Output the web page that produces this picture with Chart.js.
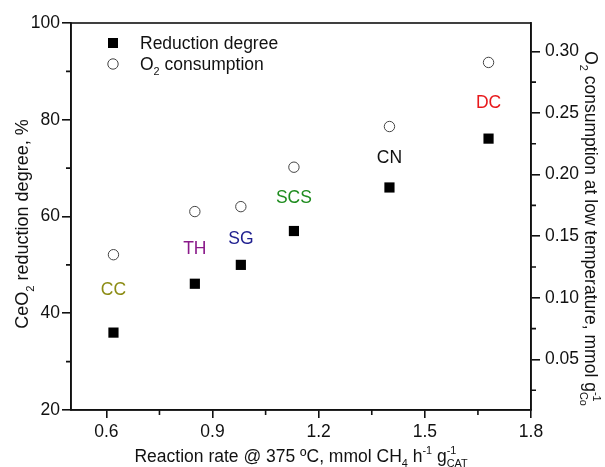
<!DOCTYPE html>
<html>
<head>
<meta charset="utf-8">
<script src="https://cdn.jsdelivr.net/npm/chart.js@4.4.1/dist/chart.umd.min.js"></script>
<style>
html,body{margin:0;padding:0;background:#fff;}
#wrap{width:605px;height:467px;}
</style>
</head>
<body>
<div id="wrap"><canvas id="c" width="605" height="467"></canvas></div>
<script>
// ---- data ----
const xRate = [0.62, 0.85, 0.98, 1.13, 1.40, 1.68];
const reductionDegree = [36.0, 46.1, 50.0, 57.0, 66.0, 76.1];
const o2Consumption = [0.135, 0.170, 0.174, 0.206, 0.239, 0.291];
const sampleNames = ['CC', 'TH', 'SG', 'SCS', 'CN', 'DC'];
const sampleLabelY = [45.0, 53.5, 55.6, 64.1, 72.3, 83.7];
const sampleColors = ['#8c8c14', '#8a1a8a', '#1f1f8f', '#1f8c1f', '#111111', '#e8191c'];
const xTicks = [0.6, 0.9, 1.2, 1.5, 1.8];
const xMinorTicks = [0.75, 1.05, 1.35, 1.65];
const yTicks = [20, 40, 60, 80, 100];
const yMinorTicks = [30, 50, 70, 90];
const y2Ticks = [0.05, 0.10, 0.15, 0.20, 0.25, 0.30];
const y2MinorTicks = [0.025, 0.075, 0.125, 0.175, 0.225, 0.275];
const legendLabels = [[{t:'Reduction degree'}], [{t:'O'},{t:'2',sub:true},{t:' consumption'}]];

const FONT = '"Liberation Sans", Arial, sans-serif';
const FS = 17.5;
const AXIS = '#111';

function segWidth(ctx, s, size){
  if (s.sup !== undefined && s.subB !== undefined) {
    ctx.font = (size*0.62)+'px '+FONT;
    return Math.max(ctx.measureText(s.sup).width, ctx.measureText(s.subB).width);
  }
  ctx.font = ((s.sub||s.sup)? size*0.62 : size)+'px '+FONT;
  return ctx.measureText(s.t).width;
}
function drawRich(ctx, segs, x, y, rot, size, align, color){
  ctx.save();
  ctx.translate(x, y);
  ctx.rotate(rot);
  ctx.fillStyle = color || '#111';
  ctx.textBaseline = 'alphabetic';
  ctx.textAlign = 'left';
  let w = 0;
  segs.forEach(s => w += segWidth(ctx, s, size));
  let cx = align === 'left' ? 0 : -w/2;
  const base = size*0.36;
  segs.forEach(s => {
    const sw = segWidth(ctx, s, size);
    if (s.sup !== undefined && s.subB !== undefined) {
      ctx.font = (size*0.62)+'px '+FONT;
      ctx.fillText(s.sup, cx, base - size*0.45);
      ctx.fillText(s.subB, cx, base + size*0.28);
    } else if (s.sub) {
      ctx.font = (size*0.62)+'px '+FONT;
      ctx.fillText(s.t, cx, base + size*0.28);
    } else if (s.sup) {
      ctx.font = (size*0.62)+'px '+FONT;
      ctx.fillText(s.t, cx, base - size*0.45);
    } else {
      ctx.font = size+'px '+FONT;
      ctx.fillText(s.t, cx, base);
    }
    cx += sw;
  });
  ctx.restore();
}

const decor = {
  id: 'decor',
  afterDatasetsDraw(chart){
    const ctx = chart.ctx;
    const a = chart.chartArea;
    const sx = chart.scales.x, sy = chart.scales.y, sy2 = chart.scales.y2;
    ctx.save();
    ctx.strokeStyle = AXIS;
    ctx.lineWidth = 1.6;
    ctx.strokeRect(a.left, a.top, a.right - a.left, a.bottom - a.top);
    ctx.beginPath();
    xMinorTicks.forEach(v => { const p = sx.getPixelForValue(v); ctx.moveTo(p, a.bottom); ctx.lineTo(p, a.bottom + 5); });
    yMinorTicks.forEach(v => { const p = sy.getPixelForValue(v); ctx.moveTo(a.left, p); ctx.lineTo(a.left - 5, p); });
    y2MinorTicks.forEach(v => { const p = sy2.getPixelForValue(v); ctx.moveTo(a.right, p); ctx.lineTo(a.right + 5, p); });
    ctx.stroke();
    ctx.restore();

    // sample labels
    sampleNames.forEach((n, i) => {
      drawRich(ctx, [{t:n}], sx.getPixelForValue(xRate[i]), sy.getPixelForValue(sampleLabelY[i]), 0, FS, 'center', sampleColors[i]);
    });

    // legend
    const lx = 113, ly = [43, 64];
    ctx.save();
    ctx.fillStyle = '#000';
    ctx.fillRect(lx - 5, ly[0] - 5, 10, 10);
    ctx.beginPath();
    ctx.arc(lx, ly[1], 5.2, 0, Math.PI*2);
    ctx.fillStyle = '#fff';
    ctx.fill();
    ctx.strokeStyle = '#444';
    ctx.lineWidth = 1;
    ctx.stroke();
    ctx.restore();
    legendLabels.forEach((segs, i) => drawRich(ctx, segs, 140, ly[i], 0, FS, 'left', '#111'));

    // axis titles
    drawRich(ctx, [{t:'CeO'},{t:'2',sub:true},{t:' reduction degree, %'}], 22, 224, -Math.PI/2, 18, 'center');
    drawRich(ctx, [{t:'O'},{t:'2',sub:true},{t:' consumption at low temperature, mmol g'},{sup:'-1', subB:'Co'}], 591, (a.top+a.bottom)/2 + 12, Math.PI/2, FS, 'center');
    drawRich(ctx, [{t:'Reaction rate @ 375 ºC, mmol CH'},{t:'4',sub:true},{t:' h'},{t:'-1',sup:true},{t:' g'},{sup:'-1', subB:'CAT'}], (a.left+a.right)/2, 456, 0, FS, 'center');
  }
};

const tickFont = {family: FONT, size: FS};
const gridOpts = (len) => ({display: true, drawOnChartArea: false, drawTicks: true, tickLength: len, color: AXIS, lineWidth: 1.6});

new Chart(document.getElementById('c'), {
  type: 'scatter',
  data: {
    datasets: [
      {
        label: 'Reduction degree',
        data: xRate.map((x, i) => ({x: x, y: reductionDegree[i]})),
        yAxisID: 'y',
        pointStyle: 'rect',
        pointRadius: 7.2,
        pointHoverRadius: 7.2,
        backgroundColor: '#000',
        borderColor: '#000',
        borderWidth: 0
      },
      {
        label: 'O2 consumption',
        data: xRate.map((x, i) => ({x: x, y: o2Consumption[i]})),
        yAxisID: 'y2',
        pointStyle: 'circle',
        pointRadius: 5.2,
        pointHoverRadius: 5.2,
        backgroundColor: '#fff',
        borderColor: '#444',
        borderWidth: 1
      }
    ]
  },
  options: {
    responsive: false,
    animation: false,
    events: [],
    layout: {padding: {top: 23, left: 0, right: 0, bottom: 0}},
    plugins: {legend: {display: false}, tooltip: {enabled: false}},
    scales: {
      x: {
        type: 'linear', position: 'bottom', min: 0.5, max: 1.8,
        afterBuildTicks: s => { s.ticks = xTicks.map(v => ({value: v})); },
        afterFit: s => { s.height = 57; },
        ticks: {font: tickFont, color: '#111', padding: 4, callback: v => Number(v).toFixed(1), maxRotation: 0},
        grid: gridOpts(8),
        border: {display: true, color: AXIS, width: 1.6}
      },
      y: {
        type: 'linear', position: 'left', min: 20, max: 100,
        afterBuildTicks: s => { s.ticks = yTicks.map(v => ({value: v})); },
        afterFit: s => { s.width = 71; },
        ticks: {font: tickFont, color: '#111', padding: 2, callback: v => String(v)},
        grid: gridOpts(9),
        border: {display: true, color: AXIS, width: 1.6}
      },
      y2: {
        type: 'linear', position: 'right', min: 0.009, max: 0.323,
        afterBuildTicks: s => { s.ticks = y2Ticks.map(v => ({value: v})); },
        afterFit: s => { s.width = 74; },
        ticks: {font: tickFont, color: '#111', padding: 5, callback: v => Number(v).toFixed(2)},
        grid: gridOpts(9),
        border: {display: true, color: AXIS, width: 1.6}
      }
    }
  },
  plugins: [decor]
});
</script>
</body>
</html>
